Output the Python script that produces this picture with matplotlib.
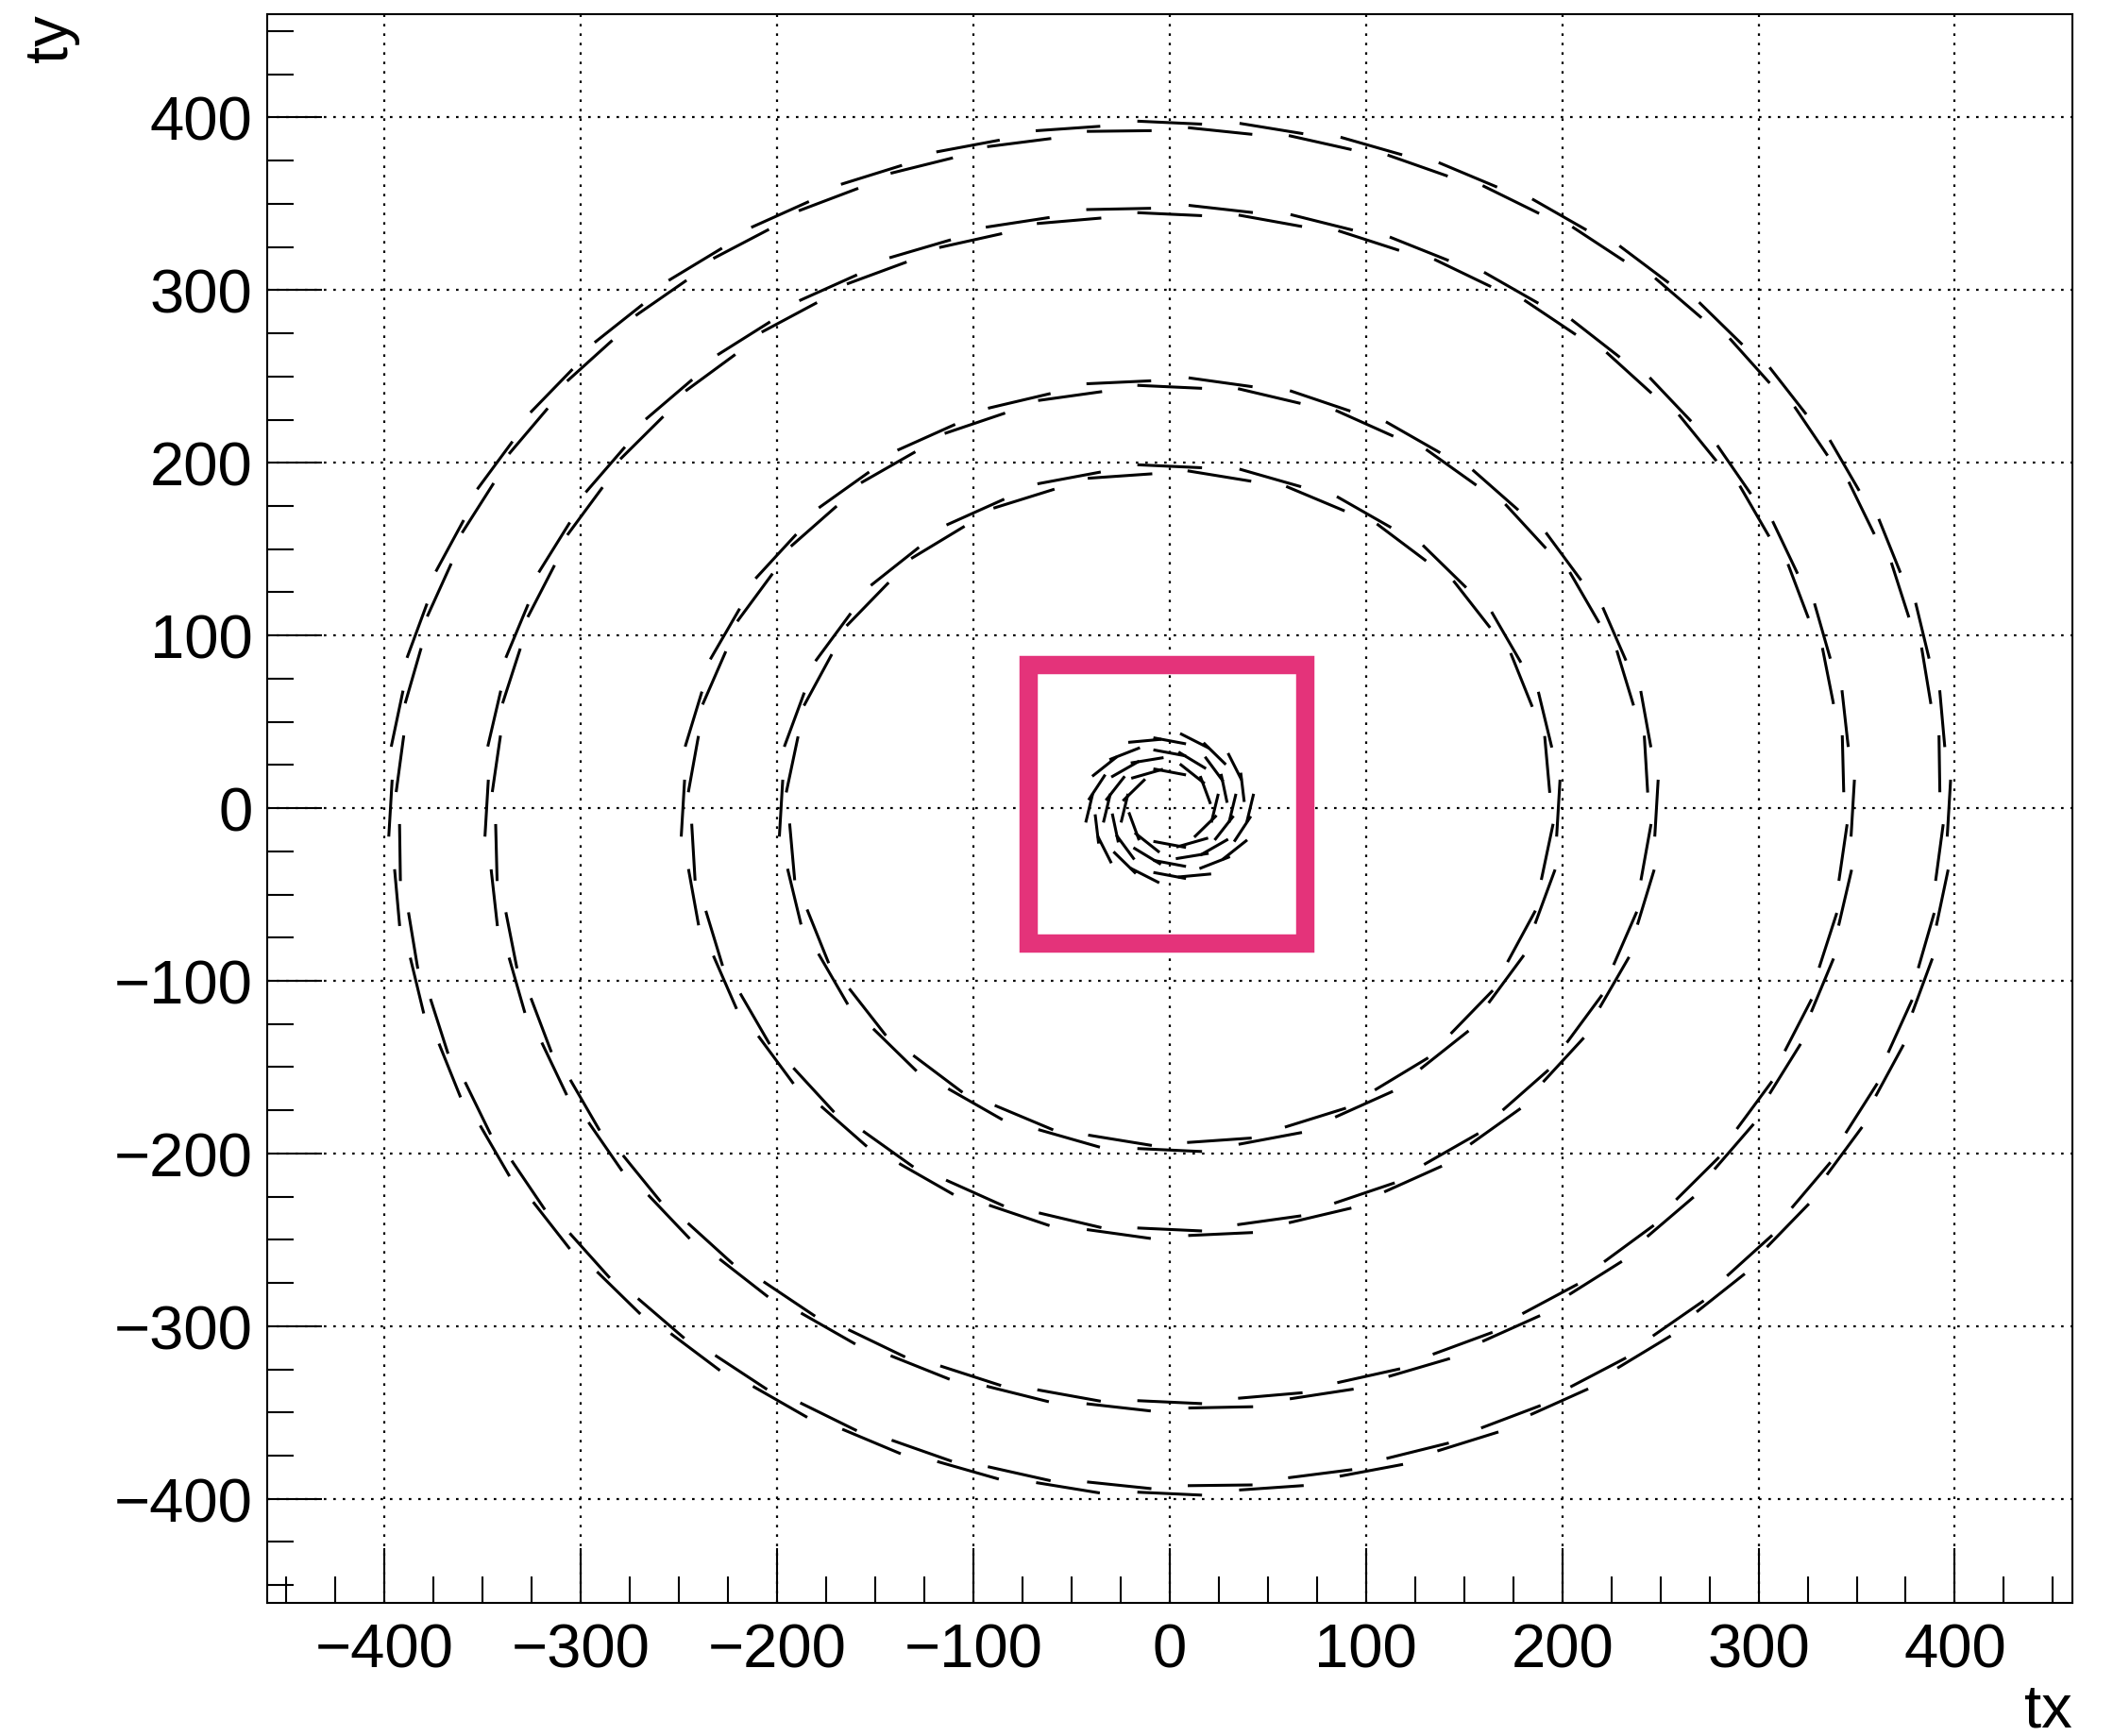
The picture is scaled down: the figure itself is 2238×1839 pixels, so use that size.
import numpy as np
import matplotlib
matplotlib.use("Agg")
import matplotlib.pyplot as plt
from matplotlib.collections import LineCollection
from matplotlib.patches import Rectangle
from matplotlib.ticker import MultipleLocator

# ---- data ----
layer_radius = [22, 31, 40, 196, 246, 346, 395]      # module centre radius
layer_modules = [12, 16, 20, 48, 60, 84, 96]         # modules per layer
module_length = [17, 17, 17, 33, 33, 33, 33]         # module width
module_tilt_deg = [-12, -12, -12, -3, -3, -3, -3]    # tilt vs. tangent
module_stagger = [1.0, 1.0, 1.0, 2.0, 2.0, 2.0, 2.0]  # alternating radial offset

x_ticks = [-400, -300, -200, -100, 0, 100, 200, 300, 400]
y_ticks = [-400, -300, -200, -100, 0, 100, 200, 300, 400]
axis_range = (-460, 460)
highlight_box = (-72, -78, 69, 83)   # x0, y0, x1, y1
x_title = "tx"
y_title = "ty"

plt.rcParams["font.family"] = ["Liberation Sans", "DejaVu Sans"]

fig = plt.figure(figsize=(22.38, 18.40), dpi=100)
ax = fig.add_axes([0.12627, 0.07690, 0.85460, 0.91457])

segments = []
for r, n, L, tilt, dr in zip(layer_radius, layer_modules, module_length,
                             module_tilt_deg, module_stagger):
    a = np.deg2rad(tilt)
    for i in range(n):
        phi = 2 * np.pi * i / n
        ri = r + (dr if i % 2 == 0 else -dr)
        cx, cy = ri * np.cos(phi), ri * np.sin(phi)
        dx, dy = -np.sin(phi + a), np.cos(phi + a)
        segments.append([(cx - L / 2 * dx, cy - L / 2 * dy),
                         (cx + L / 2 * dx, cy + L / 2 * dy)])

lc = LineCollection(segments, colors="black", linewidths=2.2, zorder=3)
ax.add_collection(lc)

x0, y0, x1, y1 = highlight_box
ax.add_patch(Rectangle((x0, y0), x1 - x0, y1 - y0, fill=False,
                       edgecolor="#E4337A", linewidth=14, zorder=4,
                       joinstyle="miter"))

ax.set_xlim(*axis_range)
ax.set_ylim(*axis_range)
ax.set_xticks(x_ticks)
ax.set_yticks(y_ticks)
ax.xaxis.set_minor_locator(MultipleLocator(25))
ax.yaxis.set_minor_locator(MultipleLocator(25))

ax.tick_params(which="major", direction="in", length=42, width=1.5,
               top=False, right=False, labelsize=47, colors="black")
ax.tick_params(which="minor", direction="in", length=20.5, width=1.5,
               top=False, right=False)
ax.tick_params(axis="x", which="major", pad=15)
ax.tick_params(axis="y", which="major", pad=11)

ax.grid(True, which="major", color="black", linestyle=(0, (1.2, 3.3)),
        linewidth=1.6)
ax.set_axisbelow(True)
for s in ax.spines.values():
    s.set_linewidth(1.5)

fig.text(2195.2 / 2238, 10 / 1840, x_title, fontsize=47, ha="right",
         va="baseline")
fig.text(71 / 2238, 1 - 15.7 / 1840, y_title, fontsize=47, rotation=90,
         rotation_mode="anchor", ha="right", va="baseline")

fig.savefig("out.png", dpi=100, facecolor="white")
